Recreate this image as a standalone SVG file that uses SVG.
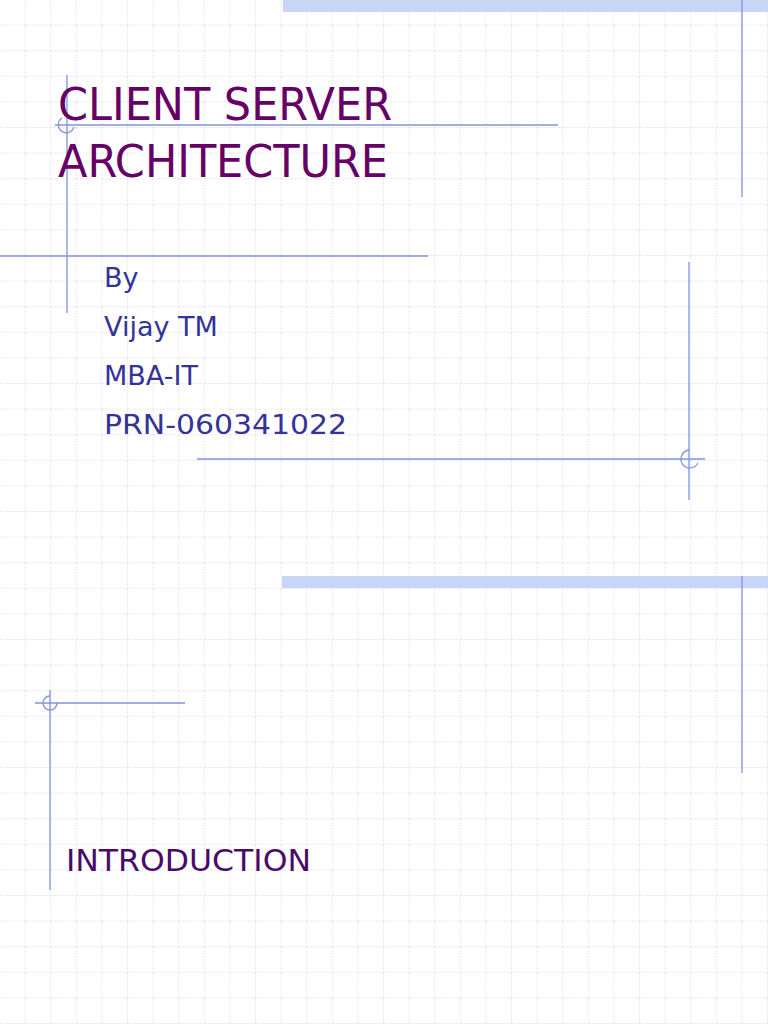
<svg xmlns="http://www.w3.org/2000/svg" width="768" height="1024" viewBox="0 0 768 1024">
<defs>
<pattern id="grid" x="0" y="0" width="25.6" height="25.6" patternUnits="userSpaceOnUse">
<path d="M25 0V25.6M0 25H25.6" fill="none" stroke="#e0e3ea" stroke-width="1" stroke-dasharray="1.5 1.5"/>
</pattern>
<style>
.l{stroke:#8094dc;stroke-width:1.3;fill:none}
.band{fill:#c9d5f7}
.t{font-family:"DejaVu Sans Condensed","DejaVu Sans",sans-serif;fill:#660066}
.b{font-family:"DejaVu Sans",sans-serif;fill:#333399;font-size:27px}
</style>
</defs>
<rect width="768" height="1024" fill="#ffffff"/>
<rect width="768" height="1024" fill="url(#grid)"/>
<g id="bands">
<rect class="band" x="283" y="0" width="485" height="12"/>
<rect class="band" x="282" y="576" width="486" height="12"/>
</g>
<g id="lines">
<path class="l" d="M55 125H558M67 75V313M0 256H428M742 0V197"/>
<path class="l" d="M74 127A8 8 0 1 1 62 118"/>
<path class="l" d="M689 262V500M197 459H705M742 576V773"/>
<path class="l" d="M698 463A9 9 0 1 1 689 450"/>
<path class="l" d="M35 703H185M50 690V890"/>
<path class="l" d="M57 703A7 7 0 1 1 50 696"/>
</g>
<g id="title">
<text class="t" x="58" y="120" font-size="44" textLength="334" lengthAdjust="spacingAndGlyphs">CLIENT SERVER</text>
<text class="t" x="58" y="177" font-size="44" textLength="330" lengthAdjust="spacingAndGlyphs">ARCHITECTURE</text>
</g>
<g id="author">
<text class="b" x="104" y="287">By</text>
<text class="b" x="104" y="336">Vijay TM</text>
<text class="b" x="104" y="385">MBA-IT</text>
<text class="b" x="104" y="434" textLength="243" lengthAdjust="spacingAndGlyphs">PRN-060341022</text>
</g>
<g id="intro">
<text class="t" x="66" y="871" font-size="30" textLength="245" lengthAdjust="spacingAndGlyphs" style="fill:#4a0a6a">INTRODUCTION</text>
</g>
</svg>
